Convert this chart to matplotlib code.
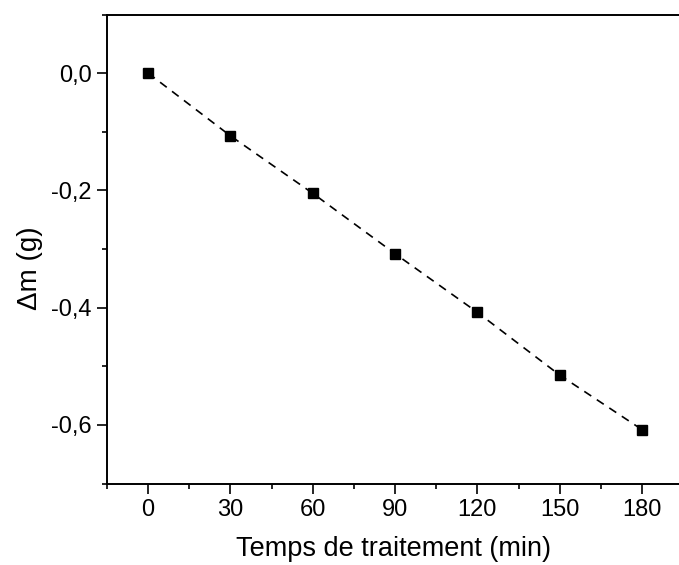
import matplotlib
matplotlib.use('Agg')
import matplotlib.pyplot as plt
from matplotlib.ticker import MultipleLocator

plt.rcParams['font.family'] = ['Liberation Sans', 'DejaVu Sans']

# data
temps = [0, 30, 60, 90, 120, 150, 180]
delta_m = [0.0, -0.107, -0.205, -0.308, -0.408, -0.515, -0.608]

x_ticks = [0, 30, 60, 90, 120, 150, 180]
x_labels = ['0', '30', '60', '90', '120', '150', '180']
y_ticks = [0.0, -0.2, -0.4, -0.6]
y_labels = ['0,0', '-0,2', '-0,4', '-0,6']

fig = plt.figure(figsize=(6.79, 5.65), dpi=100)
ax = fig.add_axes([0.1576, 0.1442, 0.8424, 0.8301])

ax.plot(temps, delta_m, '--', color='black', linewidth=1.2, dashes=(5, 4))
ax.plot(temps, delta_m, 's', color='black', markersize=6.5, linestyle='none')

ax.set_xlim(-15, 193.5)
ax.set_ylim(-0.7, 0.1)

ax.set_xticks(x_ticks)
ax.set_xticklabels(x_labels)
ax.set_yticks(y_ticks)
ax.set_yticklabels(y_labels)
ax.xaxis.set_minor_locator(MultipleLocator(15))
ax.yaxis.set_minor_locator(MultipleLocator(0.1))

ax.tick_params(which='major', direction='out', length=7, width=1.2, labelsize=17, pad=4)
ax.tick_params(which='minor', direction='out', length=3.5, width=1.2)
ax.tick_params(top=False, right=False)

for side in ['left', 'bottom', 'top']:
    ax.spines[side].set_linewidth(1.4)
ax.spines['right'].set_visible(False)

ax.set_xlabel('Temps de traitement (min)', fontsize=19.5, labelpad=11)
ax.set_ylabel('\u0394m (g)', fontsize=20, labelpad=6, y=0.46)

fig.savefig('out.png', dpi=100)
